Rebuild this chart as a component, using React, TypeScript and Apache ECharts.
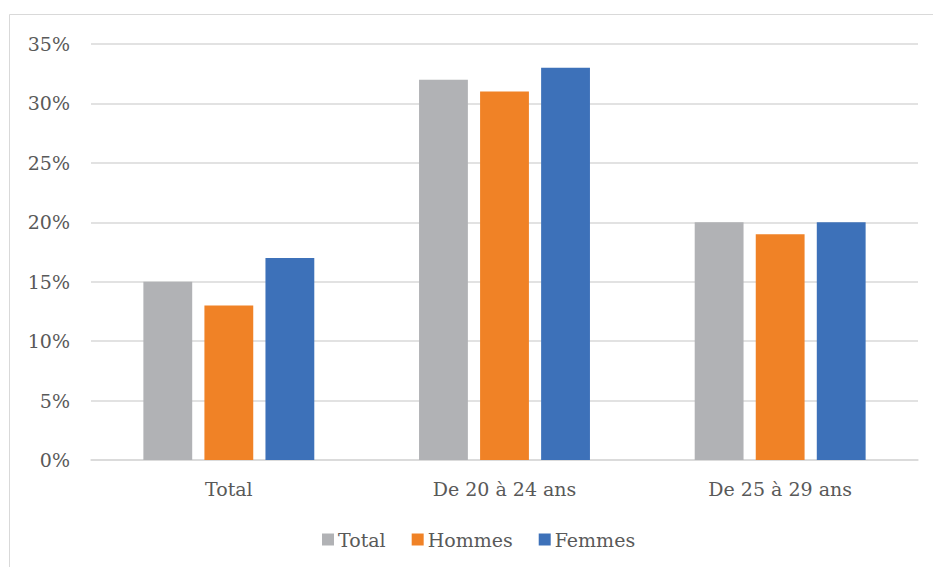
import React, { useEffect, useRef } from "react";
import * as echarts from "echarts";

const categories = ["Total", "De 20 à 24 ans", "De 25 à 29 ans"];
const seriesNames = ["Total", "Hommes", "Femmes"];
const totalValues = [15, 32, 20];
const hommesValues = [13, 31, 19];
const femmesValues = [17, 33, 20];
const colors = ["#B1B2B5", "#F08226", "#3D71B9"];

export default function App() {
  const ref = useRef<HTMLDivElement>(null);
  useEffect(() => {
    const chart = echarts.init(ref.current!, null, { renderer: "svg" });
    const data = [totalValues, hommesValues, femmesValues];
    const font = "DejaVu Serif";
    chart.setOption({
      animation: false,
      graphic: [
        {
          type: "rect",
          shape: { x: 9.5, y: 14.5, width: 1000, height: 1000 },
          style: { fill: "none", stroke: "#D9D9D9", lineWidth: 1 },
          silent: true,
        },
      ],
      grid: { left: 91, right: 15, top: 44, bottom: 107 },
      legend: {
        data: seriesNames,
        top: 525,
        left: 317,
        itemWidth: 12,
        itemHeight: 12,
        itemGap: 26,
        icon: "rect",
        textStyle: { fontFamily: font, fontSize: 19, color: "#595959", padding: [0, 0, 0, -1] },
      },
      xAxis: {
        type: "category",
        data: categories,
        axisLine: { lineStyle: { color: "#D9D9D9", width: 1.5 } },
        axisTick: { show: false },
        axisLabel: { fontFamily: font, fontSize: 19, color: "#595959", margin: 19 },
      },
      yAxis: {
        type: "value",
        min: 0,
        max: 35,
        interval: 5,
        axisLine: { show: false },
        axisTick: { show: false },
        splitLine: { lineStyle: { color: "#D9D9D9", width: 1.5 } },
        axisLabel: {
          fontFamily: font,
          fontSize: 19,
          color: "#595959",
          margin: 21,
          formatter: (v: number) => v + "%",
        },
      },
      series: seriesNames.map((name, i) => ({
        name,
        type: "bar",
        data: data[i],
        itemStyle: { color: colors[i] },
        barGap: "25%",
        barCategoryGap: "38%",
      })),
    });
    return () => chart.dispose();
  }, []);
  return (
    <div
      ref={ref}
      style={{ position: "absolute", left: 0, top: 0, width: 933, height: 567, background: "#fff" }}
    />
  );
}
